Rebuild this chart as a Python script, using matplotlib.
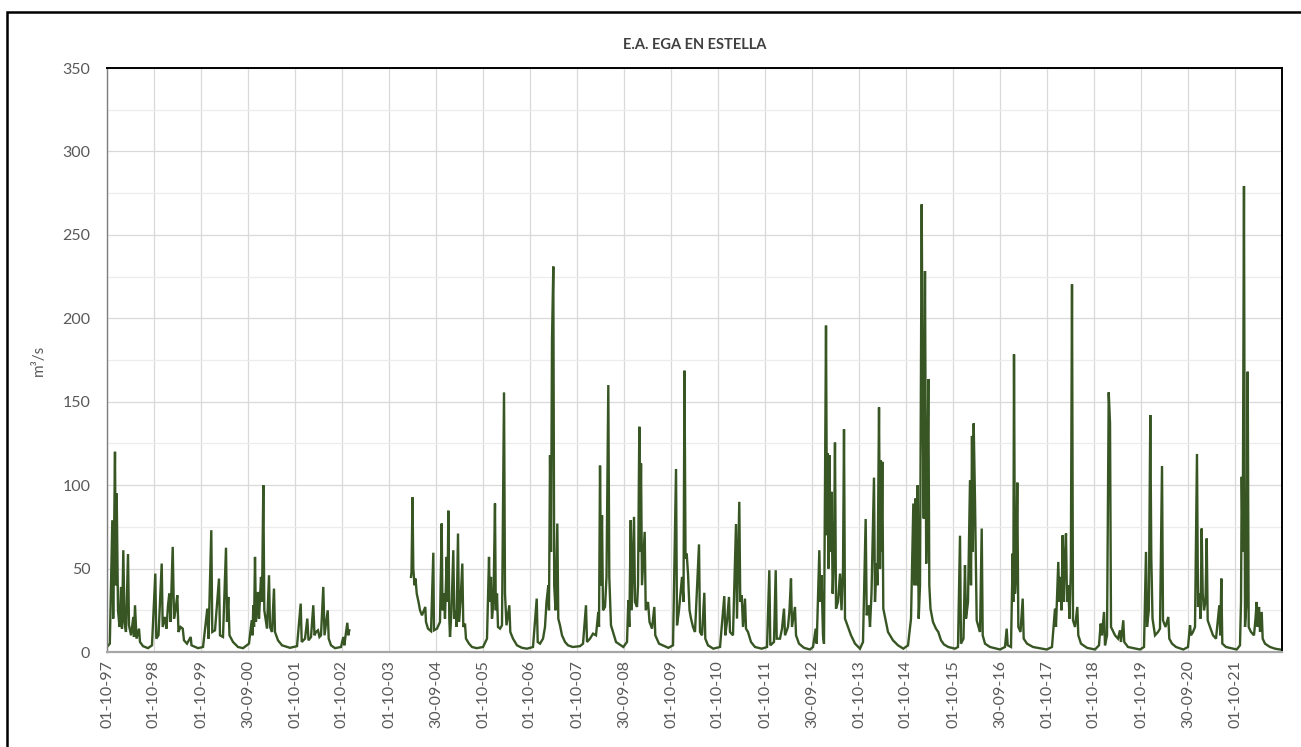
import numpy as np
import matplotlib.pyplot as plt
from matplotlib.patches import Rectangle

plt.rcParams['font.family'] = ['Lato', 'DejaVu Sans']

# caudal diario (fecha en año decimal, caudal en m3/s)
fecha = [
    # 1997-98
    1997.75, 1997.81, 1997.863, 1997.882, 1997.92, 1997.937, 1997.956, 1997.984, 1998.016, 1998.048,
    1998.069, 1998.097, 1998.122, 1998.154, 1998.197, 1998.218, 1998.261, 1998.31, 1998.324, 1998.346,
    1998.378, 1998.431, 1998.452, 1998.516, 1998.622,
    # 1998-99
    1998.707, 1998.778, 1998.799, 1998.846, 1998.914, 1998.935, 1998.984, 1999.016, 1999.048, 1999.076,
    1999.101, 1999.148, 1999.176, 1999.207, 1999.246, 1999.271, 1999.314, 1999.361, 1999.388, 1999.452,
    1999.531, 1999.548, 1999.686,
    # 1999-00
    1999.793, 1999.884, 1999.91, 1999.969, 1999.99, 2000.048, 2000.133, 2000.154, 2000.218, 2000.282,
    2000.303, 2000.331, 2000.356, 2000.431, 2000.537, 2000.644,
    # 2000-01
    2000.771, 2000.829, 2000.846, 2000.863, 2000.878, 2000.899, 2000.92, 2000.963, 2000.984, 2001.027,
    2001.048, 2001.076, 2001.097, 2001.127, 2001.154, 2001.197, 2001.218, 2001.261, 2001.303, 2001.324,
    2001.388, 2001.473, 2001.644,
    # 2001-02
    2001.793, 2001.871, 2001.893, 2001.963, 2002.012, 2002.037, 2002.091, 2002.139, 2002.165, 2002.197,
    2002.239, 2002.271, 2002.303, 2002.352, 2002.378, 2002.446, 2002.467, 2002.516, 2002.601,
    # 2002-03 (hasta el hueco)
    2002.729, 2002.778, 2002.799, 2002.863, 2002.884, 2002.905,
    2003.5,
    # 2003-04 / 2004-05
    2004.218, 2004.229, 2004.25, 2004.267, 2004.293, 2004.314, 2004.34, 2004.378, 2004.41, 2004.452,
    2004.522, 2004.537, 2004.58, 2004.644, 2004.693, 2004.707, 2004.771, 2004.835, 2004.871, 2004.888,
    2004.92, 2004.941, 2004.978, 2004.995, 2005.012, 2005.033, 2005.048, 2005.08, 2005.118, 2005.14,
    2005.171, 2005.186, 2005.218, 2005.239, 2005.271, 2005.31, 2005.331, 2005.367, 2005.388, 2005.452,
    2005.516, 2005.616,
    # 2005-06
    2005.75, 2005.835, 2005.878, 2005.895, 2005.92, 2005.941, 2005.973, 2006.005, 2006.022, 2006.048,
    2006.069, 2006.112, 2006.154, 2006.197, 2006.218, 2006.25, 2006.31, 2006.331, 2006.388, 2006.473,
    2006.58, 2006.686,
    # 2006-07
    2006.814, 2006.893, 2006.914, 2006.963, 2007.027, 2007.069, 2007.101, 2007.14, 2007.154, 2007.176,
    2007.197, 2007.218, 2007.246, 2007.265, 2007.293, 2007.331, 2007.352, 2007.388, 2007.431, 2007.495,
    2007.559, 2007.659,
    # 2007-08
    2007.814, 2007.878, 2007.941, 2007.963, 2008.027, 2008.091, 2008.154, 2008.203, 2008.218, 2008.24,
    2008.261, 2008.282, 2008.303, 2008.346, 2008.378, 2008.416, 2008.437, 2008.473, 2008.516, 2008.58,
    2008.735,
    # 2008-09
    2008.814, 2008.842, 2008.863, 2008.893, 2008.914, 2008.963, 2008.984, 2009.027, 2009.048, 2009.076,
    2009.095, 2009.112, 2009.133, 2009.19, 2009.212, 2009.261, 2009.293, 2009.346, 2009.395, 2009.416,
    2009.495, 2009.693,
    # 2009-10
    2009.793, 2009.857, 2009.878, 2009.92, 2009.984, 2010.016, 2010.037, 2010.059, 2010.084, 2010.112,
    2010.144, 2010.176, 2010.218, 2010.261, 2010.346, 2010.367, 2010.41, 2010.459, 2010.48, 2010.537,
    2010.65,
    # 2010-11
    2010.793, 2010.884, 2010.905, 2010.941, 2010.984, 2011.005, 2011.069, 2011.133, 2011.154, 2011.203,
    2011.224, 2011.254, 2011.282, 2011.324, 2011.346, 2011.388, 2011.452, 2011.537, 2011.68,
    # 2011-12
    2011.793, 2011.842, 2011.863, 2011.941, 2011.978, 2011.999, 2012.069, 2012.112, 2012.154, 2012.176,
    2012.239, 2012.271, 2012.303, 2012.324, 2012.388, 2012.41, 2012.473, 2012.58, 2012.707,
    # 2012-13
    2012.771, 2012.829, 2012.85, 2012.906, 2012.927, 2012.952, 2012.984, 2013.005, 2013.048, 2013.069,
    2013.084, 2013.101, 2013.122, 2013.144, 2013.165, 2013.19, 2013.218, 2013.239, 2013.261, 2013.303,
    2013.346, 2013.378, 2013.41, 2013.431, 2013.452, 2013.516, 2013.58, 2013.665, 2013.771,
    # 2013-14
    2013.835, 2013.892, 2013.914, 2013.956, 2013.984, 2014.016, 2014.069, 2014.09, 2014.122, 2014.144,
    2014.176, 2014.197, 2014.212, 2014.229, 2014.246, 2014.267, 2014.325, 2014.367, 2014.473, 2014.58,
    2014.693,
    # 2014-15
    2014.793, 2014.857, 2014.906, 2014.927, 2014.952, 2014.974, 2014.999, 2015.02, 2015.048, 2015.084,
    2015.105, 2015.127, 2015.154, 2015.18, 2015.203, 2015.225, 2015.246, 2015.271, 2015.324, 2015.388,
    2015.437, 2015.495, 2015.558, 2015.65,
    # 2015-16
    2015.793, 2015.856, 2015.899, 2015.92, 2015.973, 2016.005, 2016.027, 2016.069, 2016.112, 2016.133,
    2016.154, 2016.171, 2016.19, 2016.218, 2016.254, 2016.293, 2016.325, 2016.361, 2016.382, 2016.431,
    2016.537, 2016.75,
    # 2016-17
    2016.856, 2016.892, 2016.914, 2016.984, 2017.02, 2017.033, 2017.048, 2017.069, 2017.097, 2017.118,
    2017.14, 2017.186, 2017.233, 2017.254, 2017.325, 2017.452, 2017.743,
    # 2017-18
    2017.856, 2017.92, 2017.941, 2017.99, 2018.011, 2018.037, 2018.058, 2018.084, 2018.105, 2018.129,
    2018.154, 2018.176, 2018.201, 2018.229, 2018.257, 2018.282, 2018.303, 2018.346, 2018.395, 2018.416,
    2018.473, 2018.601, 2018.771,
    # 2018-19
    2018.856, 2018.892, 2018.92, 2018.963, 2018.984, 2019.027, 2019.063, 2019.091, 2019.112, 2019.197,
    2019.261, 2019.303, 2019.324, 2019.373, 2019.394, 2019.473, 2019.729,
    # 2019-20
    2019.814, 2019.856, 2019.878, 2019.916, 2019.948, 2019.969, 2019.995, 2020.048, 2020.112, 2020.154,
    2020.197, 2020.218, 2020.271, 2020.331, 2020.352, 2020.41, 2020.495, 2020.65,
    # 2020-21
    2020.75, 2020.793, 2020.814, 2020.856, 2020.899, 2020.941, 2020.963, 2020.995, 2021.016, 2021.041,
    2021.063, 2021.09, 2021.122, 2021.148, 2021.169, 2021.218, 2021.282, 2021.346, 2021.416, 2021.437,
    2021.459, 2021.48, 2021.559, 2021.786,
    # 2021-22
    2021.856, 2021.878, 2021.893, 2021.914, 2021.941, 2021.963, 2021.995, 2022.02, 2022.041, 2022.09,
    2022.154, 2022.186, 2022.212, 2022.233, 2022.261, 2022.282, 2022.318, 2022.339, 2022.388, 2022.495,
    2022.601, 2022.707,
]

caudal = [
    # 1997-98
    3, 5, 79, 20, 120, 40, 95, 25, 15, 39,
    14, 61, 18, 12, 58.7, 16, 10, 21, 9, 28,
    8, 14, 6, 3.5, 2.3,
    # 1998-99
    4, 47, 8, 10, 53, 15, 21, 14, 28, 35,
    18, 63, 20, 25, 34, 12, 15, 14, 7, 5,
    9, 4, 2.3,
    # 1999-00
    3, 26, 8, 73, 12, 13, 44, 10, 9, 62.5,
    18, 33, 10, 6, 3, 2.3,
    # 2000-01
    5, 19, 10, 28, 15, 57, 18, 36, 20, 45,
    30, 100, 25, 19, 14, 46, 15, 12, 38, 12,
    7, 4, 2.5,
    # 2001-02
    3.5, 29, 6, 8, 20, 7, 9, 28, 10, 12,
    13, 9, 10, 39, 10, 25, 8, 4, 2.3,
    # 2002-03
    3, 9, 4, 17.5, 10, 13,
    np.nan,
    # 2003-04 / 2004-05
    45, 48, 92.7, 50, 40, 44, 35, 30, 25, 22,
    27, 18, 14, 12.5, 59.5, 13, 14, 18, 77, 25,
    35, 20, 57, 30, 84.7, 20, 9, 25, 61, 20,
    25, 15, 71, 18, 30, 53, 15, 17, 8, 5,
    3, 2.3,
    # 2005-06
    3, 8, 57, 30, 45, 20, 30, 89, 25, 35,
    15, 14, 16, 155.6, 35, 16, 28, 12, 8, 4,
    2.5, 2,
    # 2006-07
    3, 32, 6, 5, 8, 15, 30, 40, 25, 118,
    60, 187, 231, 40, 25, 77, 20, 16, 10, 6,
    4, 3,
    # 2007-08
    3.5, 5, 28, 6, 8, 11, 10, 24, 15, 111.7,
    40, 82, 25, 27, 45, 160, 45, 16, 12, 6,
    3,
    # 2008-09
    6, 31, 15, 79, 25, 81, 30, 27, 40, 135,
    60, 113, 40, 72, 25, 30, 18, 14, 27, 10,
    5, 2.5,
    # 2009-10
    4, 109.7, 16, 25, 45, 30, 168.6, 56, 59, 47,
    25, 20, 15, 12, 64.5, 12, 10, 35.5, 8, 4,
    2,
    # 2010-11
    3, 33.5, 10, 18, 33, 12, 10, 76.7, 20, 90,
    30, 34, 15, 32, 14, 12, 6, 3, 2,
    # 2011-12
    3, 49, 4, 6, 49, 8, 8, 14, 26, 10,
    15, 25, 44, 15, 27, 10, 5, 2.5, 1.5,
    # 2012-13
    3, 14, 5, 61, 30, 46, 10, 5, 195.6, 70,
    119, 50, 118, 60, 96, 35, 60, 125.5, 26, 30,
    47, 25, 50, 133.5, 20, 15, 10, 5, 2,
    # 2013-14
    6, 79.7, 22, 28, 15, 35, 104.5, 30, 53, 40,
    146.6, 50, 115, 60, 114, 26, 18, 12, 7, 4,
    2,
    # 2014-15
    4, 20, 89, 40, 92, 40, 100, 20, 40, 268.3,
    148, 80, 228.3, 53, 90, 163.6, 40, 26, 18, 14,
    12, 7, 4.5, 3,
    # 2015-16
    2, 3, 69.7, 5, 8, 52, 20, 30, 103, 40,
    129.5, 60, 137, 91, 19, 15, 12, 74, 10, 5,
    3, 1.5,
    # 2016-17
    3, 14, 4, 3, 59, 30, 178.4, 35, 50, 101.5,
    15, 12, 32, 8, 5, 3, 1.5,
    # 2017-18
    3, 26, 15, 54, 30, 45, 25, 70, 30, 55,
    71, 30, 40, 20, 49, 220.3, 19, 15, 27, 10,
    5, 2.5, 1.5,
    # 2018-19
    4, 17, 10, 24, 4, 10, 155.6, 137, 15, 10,
    8, 13, 6, 19, 6, 3, 1.5,
    # 2019-20
    3, 60, 15, 25, 142, 57, 20, 10, 12, 14,
    111.5, 19, 15, 21, 8, 5, 3, 1.5,
    # 2020-21
    3, 16, 10, 12, 15, 118.7, 27, 35, 20, 74,
    35, 25, 30, 68, 19, 15, 10, 8, 28, 10,
    44, 5, 3, 1.5,
    # 2021-22
    4, 30, 105, 60, 279.3, 15, 30, 168, 15, 12,
    10, 20, 30, 15, 27, 12, 24, 8, 5, 3,
    2, 1.5,
]

etiquetas = ['01-10-97', '01-10-98', '01-10-99', '30-09-00', '01-10-01', '01-10-02', '01-10-03',
             '30-09-04', '01-10-05', '01-10-06', '01-10-07', '30-09-08', '01-10-09', '01-10-10',
             '01-10-11', '30-09-12', '01-10-13', '01-10-14', '01-10-15', '30-09-16', '01-10-17',
             '01-10-18', '01-10-19', '30-09-20', '01-10-21']

dias = (np.array(fecha) - 1997.75) * 365

fig = plt.figure(figsize=(13.01, 7.47), dpi=100)
ax = fig.add_axes([107/1301, 1 - 652/747, (1282-107)/1301, (652-68)/747])

ax.plot(dias, caudal, color='#375623', lw=1.7, solid_joinstyle='miter')

ax.set_xlim(0, 25*365)
ax.set_ylim(0, 350)
ax.set_xticks(np.arange(len(etiquetas)) * 365)
ax.set_xticklabels(etiquetas, rotation=90, fontsize=11.5, color='#595959')
ax.set_yticks(np.arange(0, 351, 50))
ax.set_yticks(np.arange(0, 351, 25), minor=True)
ax.tick_params(axis='y', labelsize=11.5, labelcolor='#595959', length=0, pad=12, which='both')
ax.tick_params(axis='x', length=0, pad=6)
ax.grid(True, which='major', color='#d9d9d9', lw=0.9)
ax.grid(True, which='minor', axis='y', color='#ececec', lw=0.9)
ax.set_axisbelow(True)

for s in ['top', 'right']:
    ax.spines[s].set_color('black')
    ax.spines[s].set_linewidth(1.4)
ax.spines['left'].set_color('#7f7f7f')
ax.spines['left'].set_linewidth(1.0)
ax.spines['bottom'].set_color('#a6a6a6')
ax.spines['bottom'].set_linewidth(1.6)

ax.set_ylabel('m³/s', fontsize=11, color='#595959', labelpad=12)
ax.set_title('E.A. EGA EN ESTELLA', fontsize=10.5, fontweight='bold', color='#404040', pad=14)

# borde exterior del grafico
fig.patches.append(Rectangle((7/1301, -0.05), 1.1, 1 - 12/747 + 0.05, transform=fig.transFigure,
                             fill=False, edgecolor='black', lw=1.8))

fig.savefig('out.png', dpi=100)
